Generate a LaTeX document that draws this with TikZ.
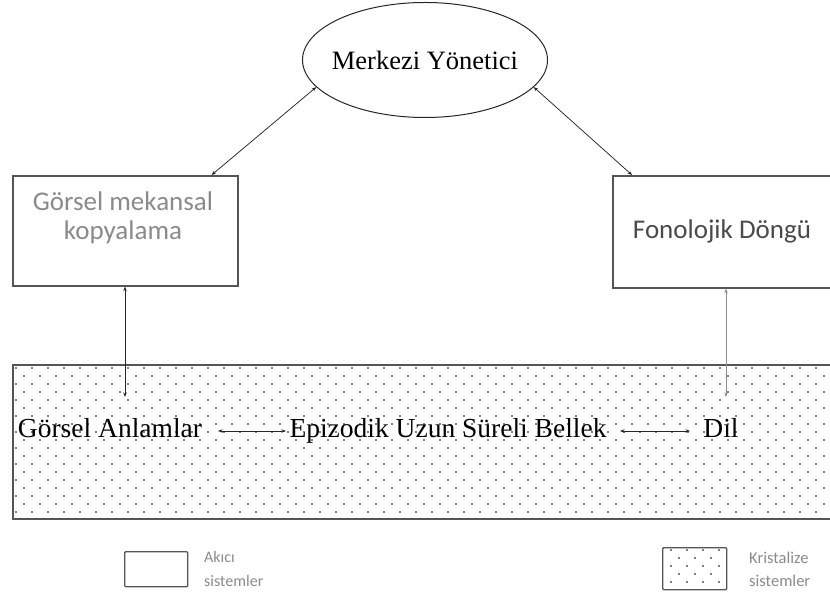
\documentclass[tikz,border=0pt]{standalone}
\usepackage{fontspec}
\setmainfont{Liberation Serif}
\newfontfamily\carl{Carlito}
\usetikzlibrary{shapes.geometric,arrows.meta}
\definecolor{boxgray}{HTML}{555555}
\definecolor{txtgray}{HTML}{8A8A8A}
\definecolor{darktxt}{HTML}{4A4A4A}
\tikzset{
  conn/.style={{Stealth[length=4.5pt,width=3.5pt]}-{Stealth[length=4.5pt,width=3.5pt]}, line width=0.75pt, draw=black!85},
  sysbox/.style={draw=boxgray, line width=1.6pt, rectangle, inner sep=0pt},
  serifl/.style={font=\fontsize{27.5}{30}\selectfont, inner sep=0pt, anchor=base},
  dotfill/.style={fill=black},
}
\begin{document}
\begin{tikzpicture}[x=1pt,y=-1pt]
\useasboundingbox (0,0) rectangle (830,601);
\clip (0,0) rectangle (830,601);
% dotted crystallized region
\begin{scope}
  \clip (12,364) rectangle (840,518);
  \foreach \j in {0,...,19} {
    \pgfmathsetmacro\off{mod(\j,2)*8}
    \foreach \i in {0,...,52} {
      \fill[dotfill] (16+\off+16*\i, 368+8*\j) circle[radius=0.9pt];
    }
  }
\end{scope}
\node[sysbox, minimum width=830pt, minimum height=154pt, anchor=north west] (kr) at (12,364) {};
% central executive
\node[draw=black!85, line width=1pt, ellipse, minimum width=245pt, minimum height=115pt, inner sep=0pt] (mk) at (425,60) {};
\node[font=\fontsize{26.5}{30}\selectfont, inner sep=0pt] (mkt) at (mk.center) {Merkezi Yönetici};
% left box
\node[sysbox, minimum width=225pt, minimum height=110pt, anchor=north west] (vs) at (12,175) {};
\node[font=\carl\fontsize{27}{29}\selectfont, text=txtgray, align=center, inner sep=0pt] (vst) at (123,218) {Görsel mekansal\\kopyalama};
% right box
\node[sysbox, minimum width=240pt, minimum height=112pt, anchor=north west] (fd) at (612,175) {};
\node[font=\carl\fontsize{27}{29}\selectfont, text=darktxt, inner sep=0pt] (fdt) at (722,231) {Fonolojik Döngü};
% bottom labels
\node[serifl] (ga) at (110,437) {Görsel Anlamlar};
\node[serifl] (ep) at (448,437) {Epizodik Uzun Süreli Bellek};
\node[serifl] (dil) at (721,437) {Dil};
% connectors
\draw[conn] (mk.194) -- ([xshift=-27pt]vs.north east);
\draw[conn] (mk.346) -- ([xshift=20pt]fd.north west);
\coordinate (c1) at (125,397);
\coordinate (c2) at (726,397);
\draw[conn] (vs.south -| c1) -- (c1);
\draw[conn, draw=black!45] (fd.south -| c2) -- (c2);
\coordinate (a1) at (218,431);
\coordinate (a2) at (286,431);
\coordinate (a3) at (620,431);
\coordinate (a4) at (690,431);
\draw[conn] (a1) -- (a2);
\draw[conn] (a3) -- (a4);
% legend
\node[draw=boxgray, line width=1.4pt, rounded corners=1pt, minimum width=63pt, minimum height=35pt, anchor=north west, inner sep=0pt] (lg1) at (124,551) {};
\node[font=\carl\fontsize{16}{24}\selectfont, text=txtgray, align=left, anchor=north west, inner sep=0pt] (lg1t) at (204,551) {Akıcı\\sistemler};
\begin{scope}
  \clip (662,547) rectangle (726,589);
  \foreach \j in {0,...,5} {
    \pgfmathsetmacro\off{mod(\j,2)*8}
    \foreach \i in {0,...,4} {
      \fill[dotfill] (671+\off+16*\i, 550+8*\j) circle[radius=0.9pt];
    }
  }
\end{scope}
\node[draw=boxgray, line width=1.4pt, rounded corners=1pt, minimum width=64pt, minimum height=42pt, anchor=north west, inner sep=0pt] (lg2) at (662,547) {};
\node[font=\carl\fontsize{16.5}{23}\selectfont, text=txtgray, align=left, anchor=north west, inner sep=0pt] (lg2t) at (749,552) {Kristalize\\sistemler};
\end{tikzpicture}
\end{document}
